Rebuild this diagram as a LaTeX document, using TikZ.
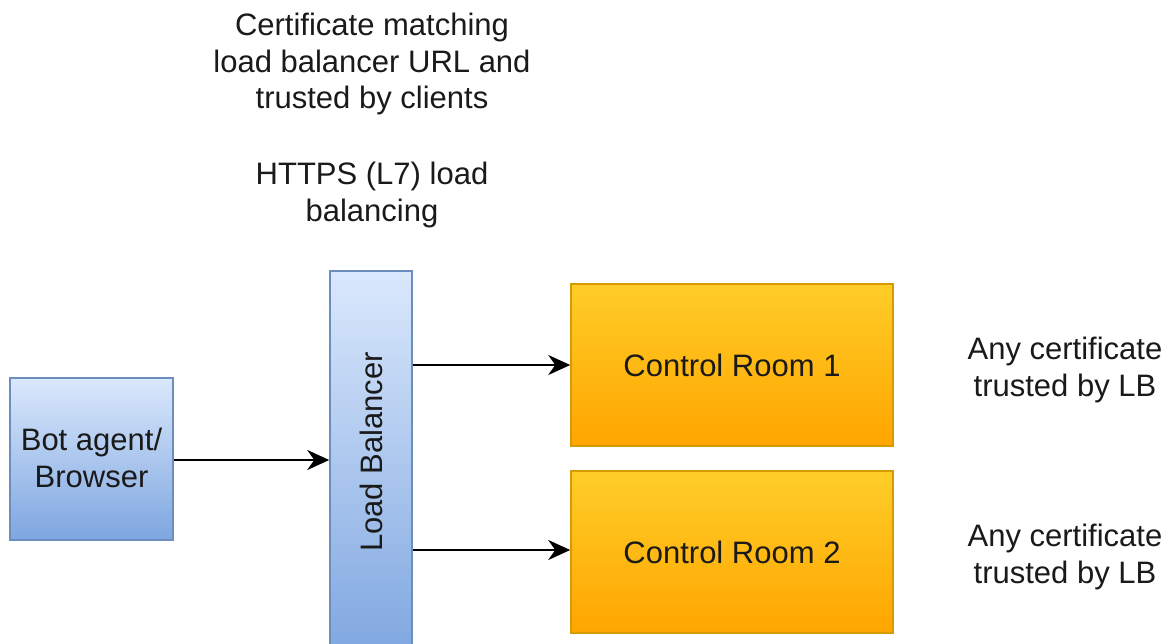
\documentclass[tikz,border=0pt]{standalone}
\usepackage{fontspec}
\setmainfont{Liberation Sans}
\usetikzlibrary{arrows.meta}
\definecolor{bluetop}{HTML}{DAE8FC}
\definecolor{bluebot}{HTML}{7EA6E0}
\definecolor{bluestroke}{HTML}{6C8EBF}
\definecolor{orgtop}{HTML}{FFCD28}
\definecolor{orgbot}{HTML}{FFA500}
\definecolor{orgstroke}{HTML}{D79B00}
\definecolor{txt}{HTML}{1A1A1A}
\tikzset{
  bluebox/.style={draw=bluestroke, line width=1.5pt, top color=bluetop, bottom color=bluebot, rectangle, inner sep=0pt},
  orgbox/.style={draw=orgstroke, line width=1.5pt, top color=orgtop, bottom color=orgbot, rectangle, inner sep=0pt},
  lbl/.style={font=\fontsize{31}{36.5}\selectfont, text=txt, align=center, inner sep=0pt},
  conn/.style={line width=2pt, -{Stealth[length=22pt,width=20pt,inset=7pt]}}
}
\begin{document}
\begin{tikzpicture}[x=1pt,y=-1pt]
\useasboundingbox[fill=white] (0,0) rectangle (1172,643);
\node[bluebox, minimum width=163pt, minimum height=162pt] (bot) at (91.5,459) {};
\node[lbl] (bottext) at (91.5,458) {Bot agent/\\Browser};
\node[bluebox, minimum width=82pt, minimum height=389pt] (lb) at (371,465.5) {};
\node[lbl, rotate=90] (lbtext) at (371,452) {Load Balancer};
\node[orgbox, minimum width=322pt, minimum height=162pt] (cr1) at (732,365) {};
\node[lbl] (cr1text) at (732,365) {Control Room 1};
\node[orgbox, minimum width=322pt, minimum height=162pt] (cr2) at (732,552) {};
\node[lbl] (cr2text) at (732,552) {Control Room 2};
\node[lbl] (certtop) at (372,64) {Certificate matching\\load balancer URL and\\trusted by clients};
\node[lbl] (https) at (372,195) {HTTPS (L7) load\\balancing};
\node[lbl] (any1) at (1065,370) {Any certificate\\trusted by LB};
\node[lbl] (any2) at (1065,557) {Any certificate\\trusted by LB};
\draw[conn] (bot.east |- 0,460) -- (lb.west |- 0,460);
\draw[conn] (lb.east |- cr1.west) -- (cr1.west);
\draw[conn] (lb.east |- 0,550) -- (cr2.west |- 0,550);
\end{tikzpicture}
\end{document}
